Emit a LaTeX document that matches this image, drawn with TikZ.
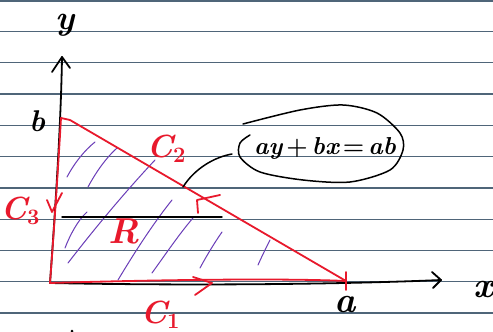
\documentclass[tikz,border=0pt]{standalone}
\usetikzlibrary{calc}
\definecolor{rulecol}{HTML}{4F6579}
\definecolor{pencol}{HTML}{E8192C}
\definecolor{hatchcol}{HTML}{6A3DB8}
\newcommand{\hsub}[1]{\raisebox{-0.35ex}{\fontsize{22}{22}\selectfont\upshape #1}}
\tikzset{
 ruling/.style={draw=rulecol, line width=1.1pt},
 inkpen/.style={draw=black, line width=1.8pt, line cap=round, line join=round},
 redpen/.style={draw=pencol, line width=1.8pt, line cap=round, line join=round},
 hatchpen/.style={draw=hatchcol, line width=1pt, line cap=round},
 lbl/.style={inner sep=0pt, font=\fontsize{36}{38}\selectfont\bfseries\itshape},
 redlbl/.style={lbl, text=pencol, font=\fontsize{32}{34}\selectfont\bfseries\itshape},
}
\begin{document}
\begin{tikzpicture}[x=1pt,y=-1pt]
\useasboundingbox (0,0) rectangle (493,332);
\fill[white] (0,0) rectangle (493,332);
\foreach \yy in {1,31.5,62.8,94,125.3,156.6,188,219.2,250.4,281.6,313}
  \draw[ruling] (0,\yy) -- (493,\yy);

% key points
\coordinate (O) at (50,283);
\coordinate (B) at (61,118);
\coordinate (A) at (346,281);
\coordinate (Ytop) at (62,57);
\coordinate (Xend) at (441,280);
\coordinate (hp) at (183,187);
\coordinate (loopL) at (232,154);

% hatching
\draw[hatchpen] (67,177) .. controls (75,162) and (85,150) .. (95,142);
\draw[hatchpen] (88,187) .. controls (96,172) and (106,158) .. (117,148);
\draw[hatchpen] (65,248) .. controls (70,235) and (78,220) .. (87,212);
\draw[hatchpen] (68,263) .. controls (95,228) and (125,192) .. (155,160);
\draw[hatchpen] (118,280) .. controls (133,255) and (152,225) .. (172,200);
\draw[hatchpen] (152,273) .. controls (165,255) and (180,233) .. (193,218);
\draw[hatchpen] (200,268) .. controls (207,255) and (215,242) .. (222,232);
\draw[hatchpen] (258,265) .. controls (262,256) and (266,248) .. (270,240);

% axes
\draw[inkpen] (O) .. controls (56,200) and (61,120) .. (Ytop);
\draw[inkpen] ($(Ytop)+(-10,15)$) -- (Ytop) -- ($(Ytop)+(8,11)$);
\draw[inkpen] (O) .. controls (200,286) and (350,284) .. (Xend);
\draw[inkpen] ($(Xend)+(-9,-8)$) -- (Xend) -- ($(Xend)+(-8,8)$);
\draw[inkpen, line width=1.4pt] (62,217) -- (222,217);

% red boundary
\draw[redpen] (O) .. controls (54,230) and (58,170) .. (B);
\draw[redpen] (B) -- (70,120) -- (A);
\draw[redpen] (O) .. controls (150,280) and (280,278) .. (A);
\draw[redpen] ($(A)+(0,-9)$) -- ($(A)+(0,9)$);
\draw[redpen] (47,200) -- (52,212) -- (62,193);
\draw[redpen] (193,277) -- (212,283) -- (195,295);
\draw[redpen] (220,195) -- (197,200) -- (198,213);

% equation loop and connector
\node[lbl, font=\fontsize{24.5}{26}\selectfont\bfseries\itshape] (eq) at (325,148) {ay\,{\upshape+}\,bx\,{\upshape=}\,ab};
\draw[inkpen, line width=1.5pt] plot[smooth] coordinates {(243,124) (300,110) (343,105) (377,113) (400,133) (403,150) (390,170) (350,182) (303,180) (260,172) (240,157) (240,143) (250,135)};
\draw[inkpen, line width=1.5pt] (hp) .. controls (195,168) and (215,157) .. (loopL);

% labels
\node[lbl, font=\fontsize{34}{36}\selectfont\bfseries\itshape] (ylab) at (65,25) {y};
\node[lbl, font=\fontsize{30}{32}\selectfont\bfseries\itshape] (blab) at (37,121) {b};
\node[lbl] (xlab) at (484,290) {x};
\node[lbl] (alab) at (345,305) {a};
\node[redlbl] (c2) at (166,149) {C\hsub{2}};
\node[redlbl] (c3) at (20,211) {C\hsub{3}};
\node[redlbl] (c1) at (160,315) {C\hsub{1}};
\node[redlbl, font=\fontsize{36}{38}\selectfont\bfseries\itshape] (rlab) at (124,231) {R};
\fill (72,331) circle (1.5);
\end{tikzpicture}
\end{document}
